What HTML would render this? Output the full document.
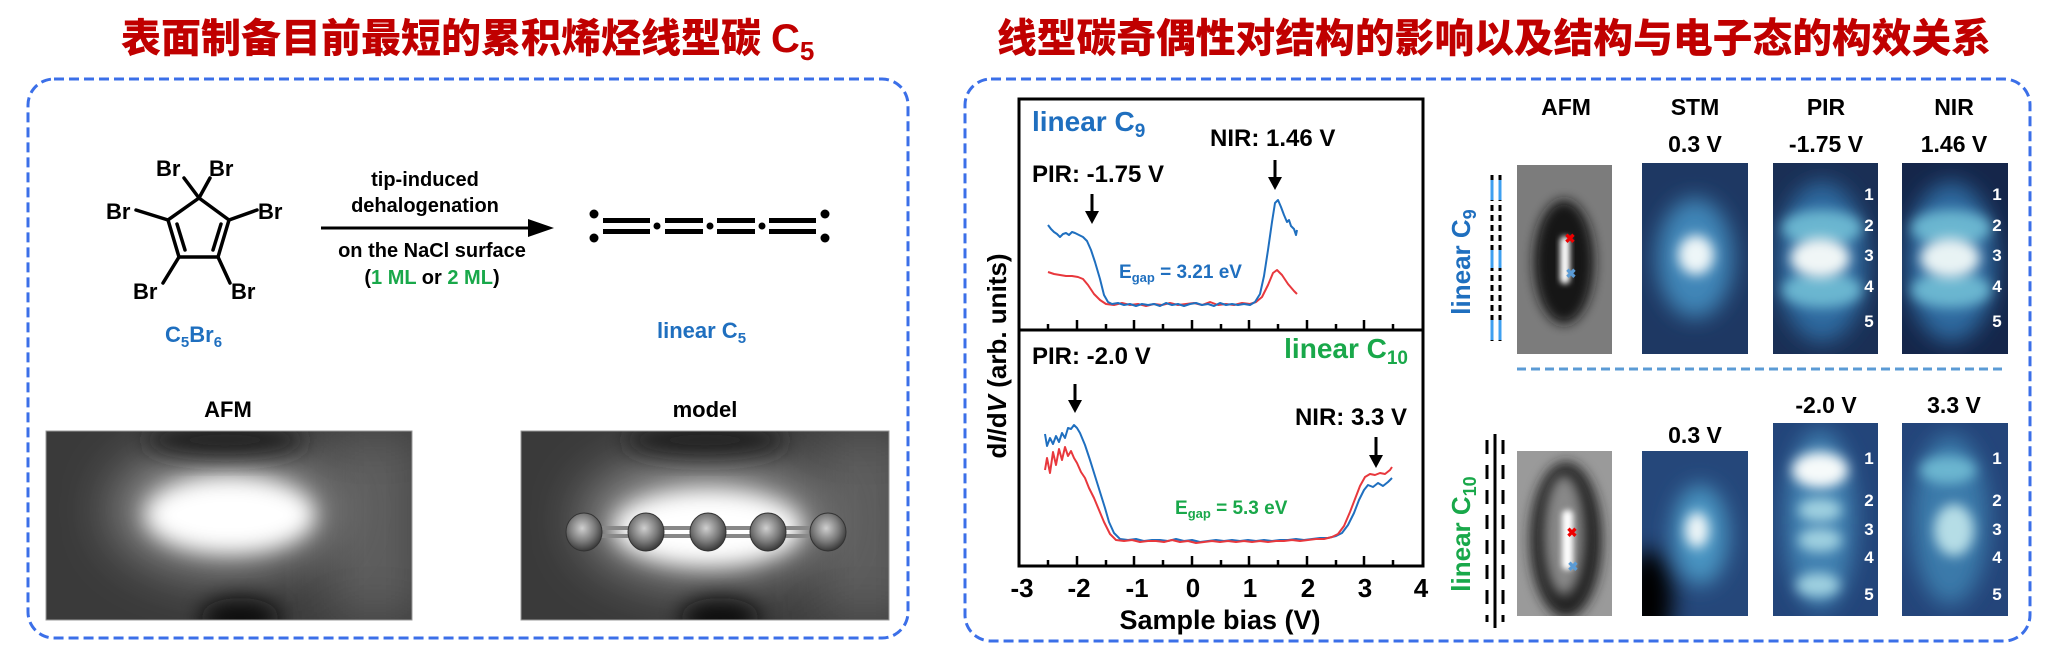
<!DOCTYPE html>
<html><head><meta charset="utf-8"><style>
html,body{margin:0;padding:0;background:#fff;}
svg{display:block;}
text{font-family:"Liberation Sans",Arial,sans-serif;font-weight:bold;}
.cjk{font-family:"Liberation Sans","Noto Sans CJK SC","WenQuanYi Zen Hei",sans-serif;font-weight:900;fill:#c00000;}
</style></head><body>
<svg width="2048" height="659" viewBox="0 0 2048 659" xmlns="http://www.w3.org/2000/svg">
<defs>
<filter id="b30" x="-50%" y="-50%" width="200%" height="200%"><feGaussianBlur stdDeviation="28"/></filter>
<filter id="b12" x="-50%" y="-50%" width="200%" height="200%"><feGaussianBlur stdDeviation="11"/></filter>
<filter id="b6" x="-50%" y="-50%" width="200%" height="200%"><feGaussianBlur stdDeviation="6"/></filter>
<filter id="b3" x="-50%" y="-50%" width="200%" height="200%"><feGaussianBlur stdDeviation="3"/></filter>
<clipPath id="c1"><rect x="46" y="431" width="366" height="189"/></clipPath>
<clipPath id="c2"><rect x="521" y="431" width="368" height="189"/></clipPath>
<clipPath id="r1"><rect x="1517" y="165" width="95" height="189"/></clipPath>
<clipPath id="r2"><rect x="1642" y="163" width="106" height="191"/></clipPath>
<clipPath id="r3"><rect x="1773" y="163" width="105" height="191"/></clipPath>
<clipPath id="r4"><rect x="1902" y="163" width="106" height="191"/></clipPath>
<clipPath id="s1"><rect x="1517" y="451" width="95" height="165"/></clipPath>
<clipPath id="s2"><rect x="1642" y="451" width="106" height="165"/></clipPath>
<clipPath id="s3"><rect x="1773" y="423" width="105" height="193"/></clipPath>
<clipPath id="s4"><rect x="1902" y="423" width="106" height="193"/></clipPath>
<radialGradient id="ball" cx="0.45" cy="0.4" r="0.6"><stop offset="0" stop-color="#cfcfcf"/><stop offset="0.6" stop-color="#7a7a7a"/><stop offset="1" stop-color="#3a3a3a"/></radialGradient>
</defs>

<!-- Titles -->
<text x="121" y="52" class="cjk" font-size="40" textLength="640" lengthAdjust="spacingAndGlyphs">表面制备目前最短的累积烯烃线型碳</text>
<text x="771" y="52" font-size="40" fill="#c00000">C<tspan font-size="26" dy="8">5</tspan></text>
<text x="997" y="52" class="cjk" font-size="40" textLength="994" lengthAdjust="spacingAndGlyphs">线型碳奇偶性对结构的影响以及结构与电子态的构效关系</text>

<!-- Boxes -->
<rect x="28" y="79" width="880" height="559" rx="26" fill="none" stroke="#3b6fe8" stroke-width="3" stroke-dasharray="10 5"/>
<rect x="965" y="79" width="1065" height="562" rx="26" fill="none" stroke="#3b6fe8" stroke-width="3" stroke-dasharray="10 5"/>

<!-- C5Br6 molecule -->
<g stroke="#000" stroke-width="3.5" fill="none" stroke-linecap="round">
<polygon points="199,198 168,220 179,257 218,257 229,220"/>
<line x1="185" y1="250" x2="177" y2="224"/>
<line x1="213" y1="250" x2="221" y2="224"/>
<line x1="199" y1="198" x2="184" y2="178"/><line x1="199" y1="198" x2="210" y2="178"/>
<line x1="168" y1="220" x2="136" y2="210"/><line x1="229" y1="220" x2="257" y2="210"/>
<line x1="179" y1="257" x2="163" y2="283"/><line x1="218" y1="257" x2="230" y2="283"/>
</g>
<g font-size="22" font-weight="normal" fill="#000">
<text x="156" y="176" font-weight="normal">Br</text><text x="209" y="176" font-weight="normal">Br</text>
<text x="106" y="219" font-weight="normal">Br</text><text x="258" y="219" font-weight="normal">Br</text>
<text x="133" y="299" font-weight="normal">Br</text><text x="231" y="299" font-weight="normal">Br</text>
</g>
<text x="165" y="342" font-size="22" fill="#1f6fbf">C<tspan font-size="15" dy="5">5</tspan><tspan dy="-5">Br</tspan><tspan font-size="15" dy="5">6</tspan></text>

<!-- arrow -->
<line x1="321" y1="228" x2="535" y2="228" stroke="#000" stroke-width="3"/>
<polygon points="554,228 528,219 528,237" fill="#000"/>
<g font-size="20" text-anchor="middle" fill="#000">
<text x="425" y="186">tip-induced</text>
<text x="425" y="212">dehalogenation</text>
<text x="432" y="257">on the NaCl surface</text>
<text x="432" y="284">(<tspan fill="#19a84a">1 ML</tspan> or <tspan fill="#19a84a">2 ML</tspan>)</text>
</g>

<!-- linear C5 -->
<g fill="#000">
<circle cx="594" cy="214" r="4.5"/><circle cx="594" cy="238" r="4.5"/>
<circle cx="825" cy="214" r="4.5"/><circle cx="825" cy="238" r="4.5"/>
<circle cx="657" cy="226" r="3.5"/><circle cx="710" cy="226" r="3.5"/><circle cx="762" cy="226" r="3.5"/>
<rect x="603" y="218" width="47" height="5"/><rect x="603" y="229" width="47" height="5"/>
<rect x="665" y="218" width="38" height="5"/><rect x="665" y="229" width="38" height="5"/>
<rect x="717" y="218" width="38" height="5"/><rect x="717" y="229" width="38" height="5"/>
<rect x="769" y="218" width="47" height="5"/><rect x="769" y="229" width="47" height="5"/>
</g>
<text x="657" y="338" font-size="22" fill="#1f6fbf">linear C<tspan font-size="15" dy="5">5</tspan></text>

<!-- AFM / model -->
<text x="228" y="417" font-size="22" text-anchor="middle">AFM</text>
<text x="705" y="417" font-size="22" text-anchor="middle">model</text>
<g clip-path="url(#c1)">
<rect x="46" y="431" width="366" height="189" fill="#3a3a3a"/>
<rect x="330" y="431" width="90" height="189" fill="#606060" filter="url(#b30)"/>
<ellipse cx="225" cy="510" rx="110" ry="60" fill="#9a9a9a" filter="url(#b30)"/>
<ellipse cx="230" cy="515" rx="85" ry="38" fill="#fff" filter="url(#b12)"/>
<ellipse cx="240" cy="618" rx="40" ry="20" fill="#111" filter="url(#b12)"/>
<ellipse cx="225" cy="440" rx="80" ry="18" fill="#222" filter="url(#b12)"/>
</g>
<rect x="46" y="431" width="366" height="189" fill="none" stroke="#999" stroke-width="1"/>
<g clip-path="url(#c2)">
<rect x="521" y="431" width="368" height="189" fill="#3a3a3a"/>
<rect x="820" y="431" width="90" height="189" fill="#606060" filter="url(#b30)"/>
<ellipse cx="705" cy="520" rx="120" ry="60" fill="#9a9a9a" filter="url(#b30)"/>
<ellipse cx="708" cy="528" rx="95" ry="38" fill="#fff" filter="url(#b12)"/>
<ellipse cx="720" cy="618" rx="40" ry="20" fill="#111" filter="url(#b12)"/>
<ellipse cx="705" cy="440" rx="80" ry="18" fill="#222" filter="url(#b12)"/>
<rect x="584" y="526" width="244" height="4" fill="#888"/>
<rect x="584" y="534" width="244" height="4" fill="#888"/>
<g stroke="#333" stroke-width="1">
<ellipse cx="584" cy="532" rx="18" ry="19" fill="url(#ball)"/>
<ellipse cx="646" cy="532" rx="18" ry="19" fill="url(#ball)"/>
<ellipse cx="708" cy="532" rx="18" ry="19" fill="url(#ball)"/>
<ellipse cx="768" cy="532" rx="18" ry="19" fill="url(#ball)"/>
<ellipse cx="828" cy="532" rx="18" ry="19" fill="url(#ball)"/>
</g>
</g>
<rect x="521" y="431" width="368" height="189" fill="none" stroke="#999" stroke-width="1"/>

<!-- Plot frame -->
<rect x="1019" y="99" width="404" height="467" fill="none" stroke="#000" stroke-width="3"/>
<line x1="1019" y1="330" x2="1423" y2="330" stroke="#000" stroke-width="3"/>
<g stroke="#000" stroke-width="2.5">
<line x1="1048" y1="330" x2="1048" y2="324"/><line x1="1077" y1="330" x2="1077" y2="320"/>
<line x1="1106" y1="330" x2="1106" y2="324"/><line x1="1134" y1="330" x2="1134" y2="320"/>
<line x1="1163" y1="330" x2="1163" y2="324"/><line x1="1192" y1="330" x2="1192" y2="320"/>
<line x1="1221" y1="330" x2="1221" y2="324"/><line x1="1249" y1="330" x2="1249" y2="320"/>
<line x1="1278" y1="330" x2="1278" y2="324"/><line x1="1307" y1="330" x2="1307" y2="320"/>
<line x1="1336" y1="330" x2="1336" y2="324"/><line x1="1364" y1="330" x2="1364" y2="320"/>
<line x1="1393" y1="330" x2="1393" y2="324"/>
<line x1="1048" y1="566" x2="1048" y2="560"/><line x1="1077" y1="566" x2="1077" y2="556"/>
<line x1="1106" y1="566" x2="1106" y2="560"/><line x1="1134" y1="566" x2="1134" y2="556"/>
<line x1="1163" y1="566" x2="1163" y2="560"/><line x1="1192" y1="566" x2="1192" y2="556"/>
<line x1="1221" y1="566" x2="1221" y2="560"/><line x1="1249" y1="566" x2="1249" y2="556"/>
<line x1="1278" y1="566" x2="1278" y2="560"/><line x1="1307" y1="566" x2="1307" y2="556"/>
<line x1="1336" y1="566" x2="1336" y2="560"/><line x1="1364" y1="566" x2="1364" y2="556"/>
<line x1="1393" y1="566" x2="1393" y2="560"/>
</g>
<g font-size="26" text-anchor="middle">
<text x="1022" y="597">-3</text><text x="1079" y="597">-2</text><text x="1137" y="597">-1</text>
<text x="1193" y="597">0</text><text x="1250" y="597">1</text><text x="1308" y="597">2</text>
<text x="1365" y="597">3</text><text x="1421" y="597">4</text>
</g>
<text x="1220" y="629" font-size="27" text-anchor="middle">Sample bias (V)</text>
<text transform="translate(1006,356) rotate(-90)" font-size="26" text-anchor="middle">d<tspan font-style="italic">I</tspan>/d<tspan font-style="italic">V</tspan> (arb. units)</text>

<!-- plot labels -->
<text x="1032" y="131" font-size="28" fill="#1f6fbf">linear C<tspan font-size="19" dy="6">9</tspan></text>
<text x="1210" y="146" font-size="24">NIR: 1.46 V</text>
<text x="1032" y="182" font-size="24">PIR: -1.75 V</text>
<text x="1119" y="278" font-size="19" fill="#1f6fbf">E<tspan font-size="13" dy="4">gap</tspan><tspan dy="-4"> = 3.21 eV</tspan></text>
<text x="1032" y="364" font-size="24">PIR: -2.0 V</text>
<text x="1408" y="358" font-size="28" fill="#19a84a" text-anchor="end">linear C<tspan font-size="19" dy="6">10</tspan></text>
<text x="1407" y="425" font-size="24" text-anchor="end">NIR: 3.3 V</text>
<text x="1175" y="514" font-size="19" fill="#19a84a">E<tspan font-size="13" dy="4">gap</tspan><tspan dy="-4"> = 5.3 eV</tspan></text>
<g stroke="#000" stroke-width="3">
<line x1="1092" y1="194" x2="1092" y2="214"/><line x1="1275" y1="160" x2="1275" y2="180"/>
<line x1="1075" y1="384" x2="1075" y2="403"/><line x1="1376" y1="437" x2="1376" y2="458"/>
</g>
<g fill="#000">
<polygon points="1085,211 1099,211 1092,224"/><polygon points="1268,177 1282,177 1275,190"/>
<polygon points="1068,400 1082,400 1075,413"/><polygon points="1369,455 1383,455 1376,468"/>
</g>

<!-- curves -->
<g fill="none" stroke-width="2" stroke-linejoin="round">
<polyline stroke="#e8383d" points="1048,272 1054,274 1060,275 1066,276 1072,276 1078,277 1083,279 1088,285 1094,294 1100,300 1106,304 1114,305 1122,303 1130,305 1138,304 1146,306 1154,304 1162,305 1170,303 1178,305 1186,304 1194,303 1202,305 1210,302 1218,305 1226,304 1234,305 1242,303 1250,304 1256,302 1262,297 1268,285 1273,273 1277,270 1282,275 1288,284 1294,291 1297,294"/>
<polyline stroke="#1f6fbf" points="1048,225 1051,229 1054,232 1057,234 1060,237 1063,234 1066,233 1069,235 1072,232 1075,233 1079,235 1083,237 1087,241 1091,250 1095,262 1100,279 1104,295 1108,302 1112,304 1118,303 1124,305 1130,304 1136,306 1142,304 1148,305 1154,304 1160,306 1166,303 1172,305 1178,304 1184,306 1190,304 1196,303 1202,305 1208,304 1214,306 1220,303 1226,305 1232,304 1238,305 1244,304 1250,305 1255,302 1260,294 1264,276 1268,250 1272,222 1275,203 1278,200 1281,207 1284,215 1287,222 1289,220 1291,226 1294,229 1296,235 1297,230"/>
<polyline stroke="#1f6fbf" points="1045,434 1047,446 1050,438 1053,444 1056,436 1059,442 1062,433 1065,438 1068,428 1071,429 1074,425 1077,428 1080,433 1085,445 1090,460 1095,476 1100,492 1105,508 1109,522 1114,533 1120,539 1128,540 1136,539 1144,541 1152,540 1160,540 1168,541 1176,539 1184,541 1192,540 1200,542 1208,541 1216,540 1224,541 1232,540 1240,541 1248,540 1256,541 1264,540 1272,541 1280,540 1288,540 1296,539 1304,540 1312,539 1320,538 1328,538 1336,536 1342,533 1348,525 1354,513 1359,500 1364,490 1368,485 1373,487 1378,483 1383,486 1388,482 1392,478"/>
<polyline stroke="#e8383d" points="1045,470 1047,458 1050,473 1053,452 1056,465 1059,449 1062,460 1065,447 1068,456 1071,451 1074,458 1077,463 1081,472 1085,478 1089,488 1094,498 1099,510 1104,522 1110,534 1116,540 1124,541 1132,540 1140,542 1148,541 1156,541 1164,542 1172,540 1180,542 1188,541 1196,543 1204,542 1212,541 1220,542 1228,541 1236,542 1244,541 1252,542 1260,541 1268,542 1276,541 1284,541 1292,540 1300,541 1308,540 1316,539 1324,539 1332,537 1338,534 1344,526 1350,512 1355,499 1360,486 1365,477 1370,474 1375,475 1380,473 1385,474 1390,470 1392,467"/>
</g>

<!-- right images headers -->
<g font-size="23" text-anchor="middle">
<text x="1566" y="115">AFM</text><text x="1695" y="115">STM</text><text x="1826" y="115">PIR</text><text x="1954" y="115">NIR</text>
<text x="1695" y="152">0.3 V</text><text x="1826" y="152">-1.75 V</text><text x="1954" y="152">1.46 V</text>
<text x="1826" y="413">-2.0 V</text><text x="1954" y="413">3.3 V</text><text x="1695" y="443">0.3 V</text>
</g>
<line x1="1517" y1="369" x2="2006" y2="369" stroke="#5b9bd5" stroke-width="3" stroke-dasharray="9 5"/>

<!-- rotated labels -->
<text transform="translate(1470,262) rotate(-90)" font-size="26" fill="#1f6fbf" text-anchor="middle">linear C<tspan font-size="18" dy="6">9</tspan></text>
<text transform="translate(1470,534) rotate(-90)" font-size="26" fill="#19a84a" text-anchor="middle">linear C<tspan font-size="18" dy="6">10</tspan></text>

<!-- C9 chain -->
<g stroke-width="3">
<line x1="1492" y1="175" x2="1492" y2="345" stroke="#000" stroke-dasharray="6 4"/>
<line x1="1500" y1="175" x2="1500" y2="345" stroke="#000" stroke-dasharray="6 4"/>
<line x1="1500" y1="180" x2="1500" y2="200" stroke="#3fa0f0"/><line x1="1500" y1="250" x2="1500" y2="268" stroke="#3fa0f0"/><line x1="1500" y1="320" x2="1500" y2="340" stroke="#3fa0f0"/>
<line x1="1492" y1="250" x2="1492" y2="268" stroke="#3fa0f0"/><line x1="1492" y1="320" x2="1492" y2="340" stroke="#3fa0f0"/><line x1="1492" y1="180" x2="1492" y2="200" stroke="#3fa0f0"/>
</g>
<!-- C10 chain -->
<g stroke="#000" stroke-width="3">
<line x1="1495" y1="434" x2="1495" y2="628"/>
<line x1="1487" y1="440" x2="1487" y2="622" stroke-dasharray="14 11"/>
<line x1="1503" y1="440" x2="1503" y2="622" stroke-dasharray="14 11"/>
</g>

<!-- AFM C9 -->
<g clip-path="url(#r1)">
<rect x="1517" y="165" width="95" height="189" fill="#7c7c7c"/>
<ellipse cx="1564" cy="262" rx="30" ry="62" fill="#151515" filter="url(#b6)"/>
<rect x="1560" y="236" width="10" height="48" rx="5" fill="#fff" filter="url(#b3)"/>
</g>
<text x="1570" y="243" font-size="13" fill="#e00" text-anchor="middle">✖</text>
<text x="1571" y="278" font-size="13" fill="#5b9bd5" text-anchor="middle">✖</text>
<!-- STM C9 -->
<g clip-path="url(#r2)">
<rect x="1642" y="163" width="106" height="191" fill="#1e3863"/>
<ellipse cx="1695" cy="258" rx="38" ry="60" fill="#3f86b8" filter="url(#b12)"/>
<ellipse cx="1696" cy="255" rx="18" ry="20" fill="#eef6f8" filter="url(#b6)"/>
</g>
<!-- PIR C9 -->
<g clip-path="url(#r3)">
<rect x="1773" y="163" width="105" height="191" fill="#1a2f55"/>
<ellipse cx="1822" cy="262" rx="45" ry="80" fill="#2f6aa0" filter="url(#b12)"/>
<ellipse cx="1822" cy="228" rx="40" ry="18" fill="#6bb6d0" filter="url(#b6)"/>
<ellipse cx="1822" cy="290" rx="40" ry="18" fill="#6bb6d0" filter="url(#b6)"/>
<ellipse cx="1820" cy="258" rx="30" ry="20" fill="#f0f6f6" filter="url(#b6)"/>
</g>
<!-- NIR C9 -->
<g clip-path="url(#r4)">
<rect x="1902" y="163" width="106" height="191" fill="#15264a"/>
<ellipse cx="1951" cy="262" rx="45" ry="80" fill="#2f6aa0" filter="url(#b12)"/>
<ellipse cx="1951" cy="228" rx="40" ry="18" fill="#6bb6d0" filter="url(#b6)"/>
<ellipse cx="1951" cy="290" rx="40" ry="18" fill="#6bb6d0" filter="url(#b6)"/>
<ellipse cx="1950" cy="258" rx="30" ry="20" fill="#e8f3f4" filter="url(#b6)"/>
</g>
<!-- AFM C10 -->
<g clip-path="url(#s1)">
<rect x="1517" y="451" width="95" height="165" fill="#9a9a9a"/>
<ellipse cx="1566" cy="540" rx="36" ry="78" fill="#222" filter="url(#b6)"/>
<ellipse cx="1564" cy="535" rx="20" ry="60" fill="#888" filter="url(#b6)"/>
<rect x="1562" y="510" width="11" height="60" rx="5" fill="#fff" filter="url(#b3)"/>
</g>
<text x="1572" y="537" font-size="13" fill="#e00" text-anchor="middle">✖</text>
<text x="1573" y="571" font-size="13" fill="#5b9bd5" text-anchor="middle">✖</text>
<!-- STM C10 -->
<g clip-path="url(#s2)">
<rect x="1642" y="451" width="106" height="165" fill="#25477a"/>
<ellipse cx="1648" cy="600" rx="25" ry="50" fill="#000" filter="url(#b12)"/>
<ellipse cx="1700" cy="535" rx="28" ry="50" fill="#4a95c2" filter="url(#b12)"/>
<ellipse cx="1697" cy="530" rx="12" ry="18" fill="#eef6f8" filter="url(#b6)"/>
</g>
<!-- PIR C10 -->
<g clip-path="url(#s3)">
<rect x="1773" y="423" width="105" height="193" fill="#23457a"/>
<ellipse cx="1820" cy="520" rx="35" ry="90" fill="#3f80b0" filter="url(#b12)"/>
<ellipse cx="1820" cy="470" rx="28" ry="18" fill="#f6fafa" filter="url(#b6)"/>
<ellipse cx="1820" cy="510" rx="22" ry="12" fill="#9fd0e0" filter="url(#b6)"/>
<ellipse cx="1820" cy="540" rx="22" ry="12" fill="#9fd0e0" filter="url(#b6)"/>
<ellipse cx="1818" cy="585" rx="22" ry="12" fill="#9fd0e0" filter="url(#b6)"/>
</g>
<!-- NIR C10 -->
<g clip-path="url(#s4)">
<rect x="1902" y="423" width="106" height="193" fill="#24457a"/>
<ellipse cx="1950" cy="520" rx="38" ry="85" fill="#3a7aaa" filter="url(#b12)"/>
<ellipse cx="1948" cy="470" rx="28" ry="14" fill="#6cb6d0" filter="url(#b6)"/>
<ellipse cx="1954" cy="530" rx="20" ry="26" fill="#b5dde6" filter="url(#b6)"/>
</g>
<g font-size="17" fill="#fff" text-anchor="middle">
<text x="1869" y="200">1</text><text x="1869" y="231">2</text><text x="1869" y="261">3</text><text x="1869" y="292">4</text><text x="1869" y="327">5</text>
<text x="1997" y="200">1</text><text x="1997" y="231">2</text><text x="1997" y="261">3</text><text x="1997" y="292">4</text><text x="1997" y="327">5</text>
<text x="1869" y="464">1</text><text x="1869" y="506">2</text><text x="1869" y="535">3</text><text x="1869" y="563">4</text><text x="1869" y="600">5</text>
<text x="1997" y="464">1</text><text x="1997" y="506">2</text><text x="1997" y="535">3</text><text x="1997" y="563">4</text><text x="1997" y="600">5</text>
</g>
</svg>
</body></html>
